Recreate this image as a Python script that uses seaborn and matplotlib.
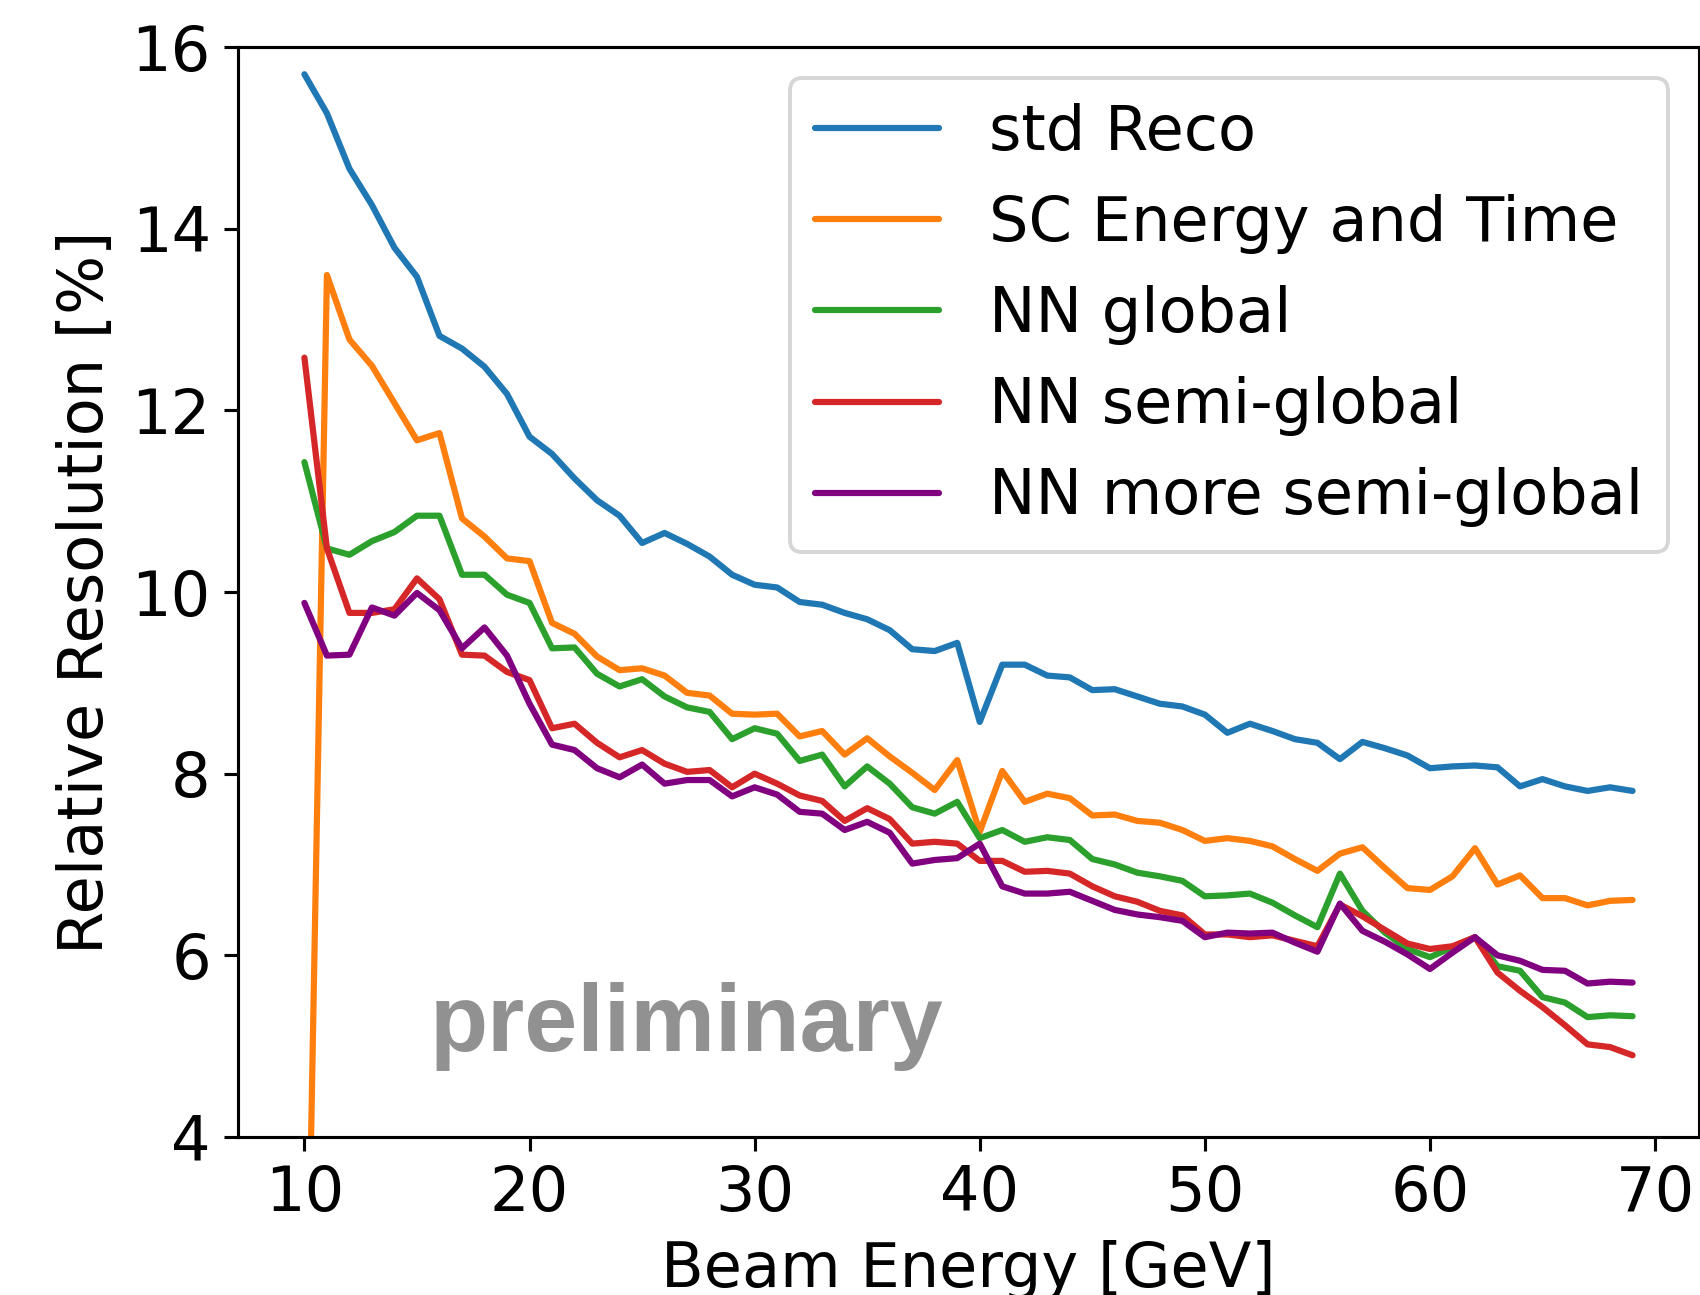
import numpy as np
import pandas as pd
import matplotlib
matplotlib.use("Agg")
import matplotlib.pyplot as plt
import seaborn as sns

# Beam energies [GeV]
energy = list(range(10, 70))

std_reco = [15.70, 15.27, 14.66, 14.26, 13.79, 13.47, 12.82, 12.68, 12.48, 12.18,
            11.71, 11.52, 11.25, 11.01, 10.84, 10.54, 10.65, 10.53, 10.39, 10.19,
            10.08, 10.05, 9.89, 9.86, 9.77, 9.70, 9.58, 9.37, 9.35, 9.44,
            8.57, 9.20, 9.20, 9.08, 9.06, 8.92, 8.93, 8.85, 8.77, 8.74,
            8.65, 8.45, 8.55, 8.47, 8.38, 8.34, 8.16, 8.35, 8.28, 8.20,
            8.06, 8.08, 8.09, 8.07, 7.86, 7.94, 7.86, 7.81, 7.85, 7.81]

sc_energy_time = [0.0, 13.49, 12.78, 12.49, 12.08, 11.67, 11.75, 10.81, 10.61, 10.37,
                  10.34, 9.66, 9.54, 9.29, 9.14, 9.16, 9.08, 8.89, 8.86, 8.66,
                  8.65, 8.66, 8.41, 8.47, 8.21, 8.39, 8.19, 8.01, 7.82, 8.15,
                  7.36, 8.03, 7.69, 7.78, 7.73, 7.54, 7.55, 7.48, 7.46, 7.38,
                  7.26, 7.29, 7.26, 7.20, 7.06, 6.93, 7.12, 7.19, 6.96, 6.74,
                  6.72, 6.87, 7.18, 6.78, 6.88, 6.63, 6.63, 6.55, 6.60, 6.61]

nn_global = [11.43, 10.48, 10.41, 10.56, 10.66, 10.84, 10.84, 10.19, 10.19, 9.97,
             9.88, 9.38, 9.39, 9.10, 8.96, 9.04, 8.85, 8.73, 8.68, 8.38,
             8.50, 8.44, 8.14, 8.21, 7.86, 8.08, 7.89, 7.63, 7.56, 7.69,
             7.29, 7.38, 7.25, 7.30, 7.27, 7.06, 7.00, 6.91, 6.87, 6.82,
             6.65, 6.66, 6.68, 6.58, 6.44, 6.31, 6.90, 6.49, 6.25, 6.07,
             5.98, 6.09, 6.20, 5.88, 5.83, 5.54, 5.48, 5.32, 5.34, 5.33]

nn_semi_global = [12.58, 10.48, 9.77, 9.77, 9.81, 10.15, 9.92, 9.31, 9.30, 9.12,
                  9.03, 8.50, 8.55, 8.34, 8.18, 8.26, 8.11, 8.02, 8.04, 7.85,
                  8.00, 7.89, 7.76, 7.70, 7.48, 7.62, 7.50, 7.23, 7.25, 7.23,
                  7.04, 7.04, 6.92, 6.93, 6.90, 6.76, 6.65, 6.59, 6.49, 6.44,
                  6.23, 6.23, 6.20, 6.22, 6.16, 6.10, 6.56, 6.43, 6.28, 6.13,
                  6.07, 6.10, 6.20, 5.81, 5.61, 5.43, 5.23, 5.02, 4.99, 4.90]

nn_more_semi_global = [9.88, 9.30, 9.31, 9.83, 9.74, 9.99, 9.80, 9.38, 9.61, 9.30,
                       8.77, 8.32, 8.26, 8.06, 7.96, 8.10, 7.89, 7.93, 7.93, 7.75,
                       7.85, 7.77, 7.58, 7.56, 7.38, 7.47, 7.35, 7.01, 7.05, 7.07,
                       7.23, 6.76, 6.68, 6.68, 6.70, 6.60, 6.50, 6.45, 6.42, 6.38,
                       6.20, 6.25, 6.24, 6.25, 6.14, 6.04, 6.57, 6.27, 6.15, 6.01,
                       5.85, 6.03, 6.20, 6.00, 5.94, 5.84, 5.83, 5.69, 5.71, 5.70]

labels = ["std Reco", "SC Energy and Time", "NN global",
          "NN semi-global", "NN more semi-global"]
colors = ["#1f77b4", "#ff7f0e", "#2ca02c", "#d62728", "purple"]
series = [std_reco, sc_energy_time, nn_global, nn_semi_global, nn_more_semi_global]

sns.set_style("white")
plt.rcParams.update({
    "font.family": ["DejaVu Sans"],
    "font.size": 16,
    "text.color": "black",
    "axes.labelcolor": "black",
    "axes.edgecolor": "black",
    "axes.linewidth": 0.8,
    "xtick.bottom": True,
    "ytick.left": True,
    "xtick.color": "black",
    "ytick.color": "black",
    "xtick.major.size": 3.5,
    "ytick.major.size": 3.5,
    "xtick.major.width": 0.8,
    "ytick.major.width": 0.8,
})

dpi = 280
fig = plt.figure(figsize=(1700 / dpi, 1295 / dpi), dpi=dpi)
ax = fig.add_axes([0.14, 0.122, 0.8594, 0.8417])

for vals, lab, col in zip(series, labels, colors):
    df = pd.DataFrame({"energy": energy, "res": vals})
    sns.lineplot(data=df, x="energy", y="res", ax=ax, color=col,
                 linewidth=1.6, label=lab)

ax.set_xlim(7.05, 71.95)
ax.set_ylim(4, 16)
ax.set_xticks([10, 20, 30, 40, 50, 60, 70])
ax.set_yticks([4, 6, 8, 10, 12, 14, 16])
ax.set_xlabel("Beam Energy [GeV]", fontsize=16)
ax.set_ylabel("Relative Resolution [%]", fontsize=16)
for side in ["top", "right", "left", "bottom"]:
    ax.spines[side].set_visible(True)
    ax.spines[side].set_color("black")

leg = ax.legend(loc="upper right", fontsize=16, frameon=True, fancybox=True,
                framealpha=0.8, edgecolor="0.8")
for t in leg.get_texts():
    t.set_color("black")

ax.text(15.55, 4.95, "preliminary", fontsize=24.5, fontweight="bold",
        family=["Liberation Sans", "DejaVu Sans"], color="#919191",
        ha="left", va="baseline")

fig.savefig("out.png", dpi=dpi)
